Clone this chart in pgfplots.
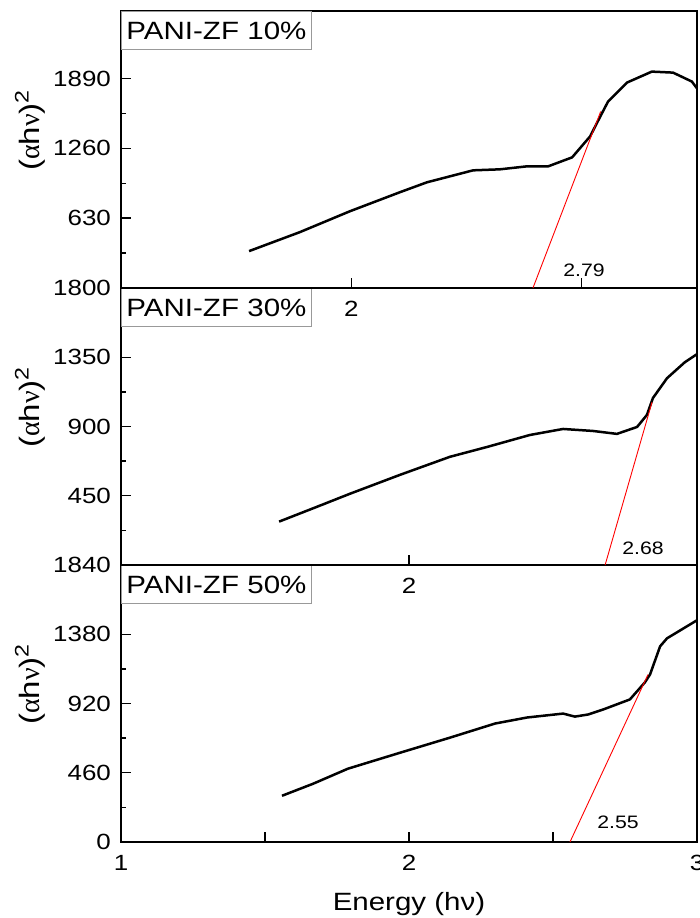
\documentclass[border=0pt]{standalone}
\usepackage{fontspec}
\setmainfont{Liberation Sans}[FakeStretch=1.18]
\newfontfamily\grk{Liberation Serif}
\usepackage{pgfplots}
\pgfplotsset{compat=1.18}

\tikzset{
 lbl/.style={draw=gray!80, line width=0.5pt, anchor=north west, inner xsep=2.5pt,
  text width=90pt, minimum height=19pt, font=\fontsize{12.5}{14}\selectfont},
 ann/.style={font=\fontsize{9}{11}\selectfont},
 curve/.style={black, line width=1.25pt, line join=round},
 tang/.style={red, line width=0.45pt},
}
\pgfplotsset{
 panel/.style={
  scale only axis, width=288pt, height=138.5pt,
  axis line style={line width=0.9pt},
  tick align=inside, tick pos=left,
  major tick length=5pt, minor tick length=2.5pt,
  tick style={black, line width=0.7pt},
  /pgf/number format/assume math mode=true,
  /pgf/number format/1000 sep={},
  scaled y ticks=false,
  ticklabel style={font=\fontsize{11}{13}\selectfont},
  yticklabel style={xshift=-1.5pt},
  xticklabel style={yshift=-3pt},
  ylabel={(\grk α\normalfont h\grk ν\normalfont)\textsuperscript{2}},
  ylabel style={at={(rel axis cs:-0.158,0.57)}, anchor=center, font=\fontsize{14}{16}\selectfont},
 },
}

\begin{document}
\begin{tikzpicture}
\path[use as bounding box] (-60.5pt,-38pt) rectangle (289.5pt,421pt);

% ---------- Panel 3 (bottom) ----------
\begin{axis}[panel, at={(0,0)}, anchor=south west,
  xmin=1, xmax=3, ymin=0, ymax=1840,
  xtick={1,1.5,2,2.5,3}, xticklabels={1,,2,,3},
  ytick={0,460,920,1380,1840}, minor ytick={230,690,1150},
  xlabel={Energy (hν)},
  xlabel style={at={(axis description cs:0.5,-0.225)}, anchor=center, font=\fontsize{12.5}{15}\selectfont},
]
\addplot[curve] coordinates {
(1.559,307) (1.667,387) (1.788,487) (1.969,593) (2.142,693) (2.299,787)
(2.410,827) (2.535,853) (2.576,833) (2.622,847) (2.674,880) (2.767,947)
(2.819,1060) (2.837,1113) (2.872,1300) (2.896,1353) (3.000,1473)};
\addplot[tang] coordinates {(2.559,0) (2.830,1113)};
\node[ann] at (axis cs:2.726,133) {2.55};
\node[lbl] at (rel axis cs:0,1) {PANI-ZF 50\%};
\end{axis}

% ---------- Panel 2 (middle) ----------
\begin{axis}[panel, at={(0,138.5pt)}, anchor=south west,
  xmin=1, xmax=3, ymin=0, ymax=1800,
  xtick={2},
  ytick={450,900,1350,1800}, minor ytick={225,675,1125},
]
\addplot[curve] coordinates {
(1.549,282) (1.672,372) (1.795,463) (1.969,586) (2.142,703) (2.271,767)
(2.420,845) (2.535,884) (2.639,871) (2.722,852) (2.792,897) (2.826,975)
(2.847,1085) (2.896,1214) (2.958,1318) (3.000,1370)};
\addplot[tang] coordinates {(2.681,0) (2.844,1059)};
\node[ann] at (axis cs:2.8125,107) {2.68};
\node[lbl] at (rel axis cs:0,1) {PANI-ZF 30\%};
\end{axis}

% ---------- Panel 1 (top) ----------
\begin{axis}[panel, at={(0,277pt)}, anchor=south west,
  xmin=1.5, xmax=2.75, ymin=0, ymax=2500,
  xtick={2,2.5}, xticklabels={2,{}},
  ytick={630,1260,1890}, minor ytick={315,945,1575},
]
\addplot[curve] coordinates {
(1.778,333) (1.888,504) (1.997,693) (2.105,864) (2.164,954) (2.264,1062)
(2.322,1071) (2.381,1098) (2.427,1098) (2.479,1179) (2.518,1368) (2.539,1539)
(2.557,1683) (2.598,1854) (2.652,1953) (2.698,1944) (2.739,1863) (2.752,1791)};
\addplot[tang] coordinates {(2.394,0) (2.541,1593)};
\node[ann] at (axis cs:2.505,162) {2.79};
\node[lbl] at (rel axis cs:0,1) {PANI-ZF 10\%};
\end{axis}
\end{tikzpicture}
\end{document}
